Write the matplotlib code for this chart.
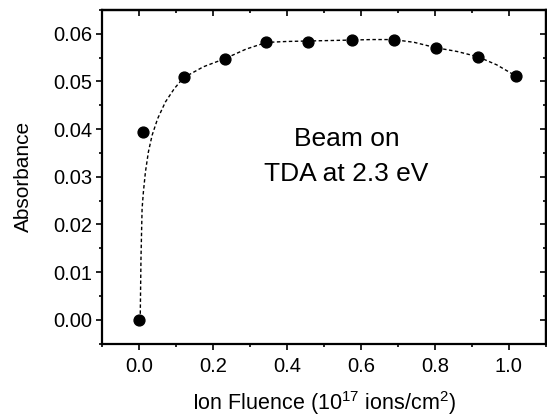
import matplotlib
matplotlib.use("Agg")
import matplotlib.pyplot as plt
from matplotlib.ticker import MultipleLocator

plt.rcParams['font.family'] = ['Liberation Sans', 'DejaVu Sans']
plt.rcParams['mathtext.fontset'] = 'custom'
plt.rcParams['mathtext.rm'] = 'Liberation Sans'

# measured points
fluence = [0.0, 0.011, 0.121, 0.233, 0.345, 0.458, 0.577, 0.689, 0.802, 0.916, 1.018]
absorb = [0.0, 0.0394, 0.0510, 0.0548, 0.0582, 0.0583, 0.0587, 0.0588, 0.0571, 0.0552, 0.0512]

# guide curve
curve_x = [0.003, 0.004, 0.006, 0.009, 0.0125, 0.018, 0.026, 0.036, 0.051, 0.072, 0.096, 0.121,
           0.175, 0.233, 0.29, 0.345, 0.40, 0.458, 0.52, 0.577, 0.63, 0.689, 0.745, 0.802,
           0.86, 0.916, 0.967, 1.018]
curve_y = [0.0, 0.0005, 0.0128, 0.0233, 0.0268, 0.031, 0.0352, 0.0387, 0.0422, 0.0457, 0.0485, 0.0508,
           0.0531, 0.0548, 0.0568, 0.0582, 0.0584, 0.0585, 0.0586, 0.0587, 0.0588, 0.0588, 0.0582, 0.0571,
           0.0563, 0.0552, 0.0535, 0.0512]

fig = plt.figure(figsize=(5.47, 4.17), dpi=100)
ax = fig.add_axes([0.186, 0.176, 0.812, 0.800])

ax.plot(curve_x, curve_y, color='black', lw=1.0, linestyle=(0, (2.5, 1.8)))
ax.plot(fluence, absorb, 'o', color='black', markersize=7.8, zorder=3)

ax.text(0.561, 0.0379, 'Beam on', ha='center', va='center', fontsize=19)
ax.text(0.561, 0.0305, 'TDA at 2.3 eV', ha='center', va='center', fontsize=19)

ax.set_xlim(-0.1, 1.1)
ax.set_ylim(-0.005, 0.065)
ax.xaxis.set_major_locator(MultipleLocator(0.2))
ax.xaxis.set_minor_locator(MultipleLocator(0.1))
ax.yaxis.set_major_locator(MultipleLocator(0.01))
ax.yaxis.set_minor_locator(MultipleLocator(0.005))
ax.xaxis.set_major_formatter(matplotlib.ticker.FormatStrFormatter('%.1f'))
ax.yaxis.set_major_formatter(matplotlib.ticker.FormatStrFormatter('%.2f'))

for s in ax.spines.values():
    s.set_linewidth(1.6)

ax.tick_params(which='both', direction='out', width=1.2, labelsize=14.5,
               top=False, right=False)
ax.tick_params(which='major', length=4)
ax.tick_params(which='minor', length=2.5)
ax.tick_params(axis='x', pad=6)
ax.tick_params(axis='y', pad=3)

# mirrored inward ticks on top and right
axt = ax.secondary_xaxis('top')
axt.xaxis.set_major_locator(MultipleLocator(0.2))
axt.xaxis.set_minor_locator(MultipleLocator(0.1))
axt.tick_params(which='both', direction='in', labeltop=False, width=1.2)
axt.tick_params(which='major', length=4)
axt.tick_params(which='minor', length=2.5)
axr = ax.secondary_yaxis('right')
axr.yaxis.set_major_locator(MultipleLocator(0.01))
axr.yaxis.set_minor_locator(MultipleLocator(0.005))
axr.tick_params(which='both', direction='in', labelright=False, width=1.2)
axr.tick_params(which='major', length=4)
axr.tick_params(which='minor', length=2.5)
for a in (axt, axr):
    for s in a.spines.values():
        s.set_linewidth(1.6)

ax.set_ylabel('Absorbance', fontsize=15, labelpad=14)
ax.set_xlabel(r'Ion Fluence (10$^{17}$ ions/cm$^{2}$)', fontsize=15.5, labelpad=9)

fig.savefig('out.png', dpi=100)
